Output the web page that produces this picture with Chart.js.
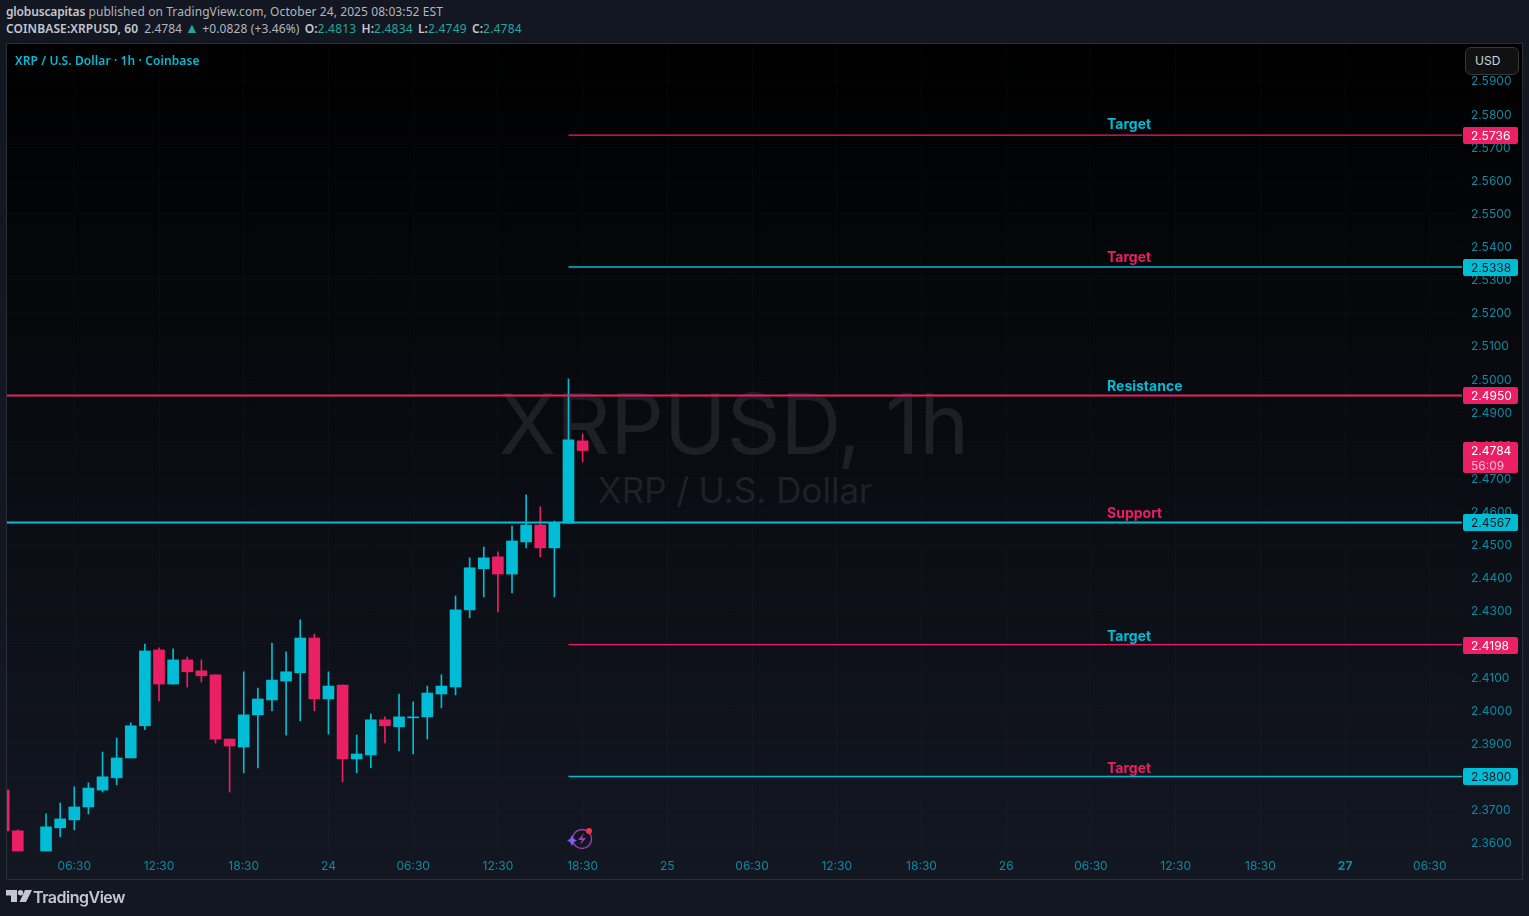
<!DOCTYPE html>
<html lang="en">
<head>
  <meta charset="UTF-8" />
  <title>XRPUSD 1h</title>
  <script src="https://cdn.jsdelivr.net/npm/chart.js"></script>
  <style>
    html, body { margin: 0; height: 916px; overflow: hidden; background: #131722; }
    body { font-family: "Noto Sans", sans-serif; font-size: 12px; color: #b2b5be; position: relative; }
    #line1, #line2 { position: absolute; left: 6px; white-space: nowrap; line-height: 16px; }
    #line1 { top: 4px; letter-spacing: 0.09px; }
    #line2 { top: 21px; }
    #line1 b, #line2 b { color: #c4c7cf; font-weight: 600; letter-spacing: -0.15px; }
    #line2 b { letter-spacing: 0.1px; }
    #line2 i { font-style: normal; color: #26a69a; letter-spacing: 0.2px; }
    #line2 b.k { margin: 0 0 0 2px; }
    #line2 .up { font-size: 14px; line-height: 12px; }
    #line2 .gain { letter-spacing: 0.12px; }
    #pane {
      position: absolute; left: 6px; top: 43px; width: 1515px; height: 835px;
      border: 1px solid #2a2e39;
      background: linear-gradient(to bottom, #000 0%, #0a0d13 55%, #131722 100%);
    }
    canvas { position: absolute; left: 0; top: 0; }
    #legend { position: absolute; left: 15px; top: 52px; color: #00bcd4; font-weight: 600; letter-spacing: 0.1px; }
    #usd {
      position: absolute; left: 1465px; top: 47px; width: 52px; height: 26px;
      background: #111; border: 1px solid #383838; border-radius: 6px;
      color: #d1d4dc; font: 12px/26px Inter, sans-serif; padding-left: 0; text-indent: 9px;
    }
    #logo { position: absolute; left: 6px; top: 889px; }
    #logoText { position: absolute; left: 33px; top: 886px; color: #c5c7cf; font: 600 16px/22px Inter, sans-serif; letter-spacing: -0.5px; }
    #spark { position: absolute; left: 566px; top: 826px; }
  </style>
</head>
<body>
  <div id="line1"><b>globuscapitas</b> published on TradingView.com, October 24, 2025 08:03:52 EST</div>
  <div id="line2"><b>COINBASE:XRPUSD, 60</b>&nbsp; 2.4784 <i class="up">▲</i> <span class="gain">+0.0828 (+3.46%)</span> <b class="k">O:</b><i>2.4813</i> <b class="k">H:</b><i>2.4834</i> <b class="k">L:</b><i>2.4749</i> <b class="k">C:</b><i>2.4784</i></div>
  <div id="pane"></div>
  <canvas id="chart" width="1529" height="916"></canvas>
  <div id="legend">XRP / U.S. Dollar · 1h · Coinbase</div>
  <div id="usd">USD</div>
  <svg id="spark" width="30" height="26" viewBox="0 0 30 26">
    <circle cx="16" cy="13" r="9.5" fill="none" stroke="#9c3fb0" stroke-width="1.4" />
    <path d="M18 7 L12 14 H16 L14 19 L20 12 H16 Z" fill="#9c3fb0" />
    <path d="M6 9 L8 13 L11 14.500 L8 16 L6 20 L4 16 L1 14.500 L4 13 Z" fill="#7c5cf5" />
    <circle cx="23" cy="5" r="3" fill="#f23645" />
  </svg>
  <svg id="logo" width="26" height="14" viewBox="0 0 26 14">
    <path d="M0 1 H11 V13 H5 V6.500 H0 Z" fill="#c5c7cf" />
    <circle cx="14.500" cy="3.800" r="2.700" fill="#c5c7cf" />
    <path d="M19 1 H26 L20 13 H13.500 Z" fill="#c5c7cf" />
  </svg>
  <div id="logoText">TradingView</div>

  <script>
    // hourly candles, first one sits mostly off the left edge, null = gap in the feed
    const opens = [2.3759, 2.3636, null, 2.3575, 2.3645, 2.3669, 2.3708, 2.3759, 2.3796, 2.3856, 2.3953, 2.4182, 2.4079, 2.4152, 2.4119, 2.4107, 2.3913, 2.3889, 2.3986, 2.4031, 2.4088, 2.4113, 2.4218, 2.4034, 2.4076, 2.3853, 2.3865, 2.3971, 2.3950, 2.3977, 2.3980, 2.4049, 2.4070, 2.4303, 2.4427, 2.4463, 2.4411, 2.4508, 2.4559, 2.4490, 2.4565, 2.4813];
    const highs = [2.3759, 2.3639, null, 2.3687, 2.3720, 2.3769, 2.3781, 2.3874, 2.3916, 2.3962, 2.4200, 2.4188, 2.4185, 2.4161, 2.4152, 2.4107, 2.3913, 2.4116, 2.4067, 2.4203, 2.4176, 2.4273, 2.4230, 2.4116, 2.4076, 2.3925, 2.3989, 2.3980, 2.4049, 2.4025, 2.4073, 2.4107, 2.4345, 2.4460, 2.4493, 2.4478, 2.4556, 2.4650, 2.4614, 2.4571, 2.5000, 2.4834];
    const lows = [2.3636, 2.3575, null, 2.3575, 2.3618, 2.3639, 2.3687, 2.3753, 2.3775, 2.3856, 2.3941, 2.4028, 2.4079, 2.4070, 2.4085, 2.3901, 2.3753, 2.3811, 2.3826, 2.3998, 2.3925, 2.3968, 2.3998, 2.3928, 2.3784, 2.3811, 2.3826, 2.3901, 2.3877, 2.3868, 2.3913, 2.4007, 2.4046, 2.4279, 2.4342, 2.4297, 2.4354, 2.4490, 2.4463, 2.4342, 2.4565, 2.4749];
    const closes = [2.3636, 2.3575, null, 2.3648, 2.3672, 2.3708, 2.3765, 2.3799, 2.3856, 2.3953, 2.4179, 2.4079, 2.4152, 2.4116, 2.4104, 2.3913, 2.3892, 2.3986, 2.4034, 2.4091, 2.4116, 2.4218, 2.4034, 2.4073, 2.3853, 2.3868, 2.3971, 2.3953, 2.3980, 2.3980, 2.4052, 2.4073, 2.4303, 2.4430, 2.4460, 2.4411, 2.4511, 2.4559, 2.4490, 2.4565, 2.4816, 2.4784];

    const timeLabels = ['06:30', '12:30', '18:30', '24', '06:30', '12:30', '18:30', '25', '06:30', '12:30', '18:30', '26', '06:30', '12:30', '18:30', '27', '06:30'];

    const levelPrices = [2.5736, 2.5338, 2.4950, 2.4567, 2.4198, 2.3800];
    const levelNames = ['Target', 'Target', 'Resistance', 'Support', 'Target', 'Target'];
    const levelFromBar = [35, 35, -5, -5, 35, 35];

    const lastPrice = 2.4784;
    const countdown = '56:09';

    // styling
    const CYAN = '#00bcd4';
    const RED = '#eb1f64';
    const FIRST_BAR = -5;        // index of opens[0]; bar 0 is the first 06:30
    const X_MIN = -4.766, X_MAX = 98.28;
    const Y_MIN = 2.3563, Y_MAX = 2.6011;
    const levelLineColors = [RED, CYAN, RED, CYAN, RED, CYAN];
    const levelNameColors = [CYAN, RED, CYAN, RED, CYAN, RED];
    const levelWidths = [1.4, 1.4, 2, 2, 1.4, 1.4];
    const levelNameGaps = [10, 9, 8, 8, 8, 7];

    const barX = i => i + FIRST_BAR;
    const candleColor = i => closes[i] >= opens[i] ? CYAN : RED;

    const wicks = highs.map((h, i) => ({ x: barX(i), y: h === null ? null : [lows[i], h] }));
    const bodies = opens.map((o, i) => ({ x: barX(i), y: o === null ? null : [o, closes[i]] }));
    const colors = opens.map((o, i) => candleColor(i));

    const levelSets = levelPrices.map((p, i) => ({
      type: 'line',
      data: [{ x: levelFromBar[i] === -5 ? X_MIN : levelFromBar[i], y: p }, { x: X_MAX, y: p }],
      borderColor: levelLineColors[i],
      borderWidth: levelWidths[i],
      pointRadius: 0,
      order: 0
    }));

    const watermark = {
      id: 'watermark',
      beforeDatasetsDraw(chart) {
        const c = chart.ctx;
        c.save();
        c.textAlign = 'center';
        c.textBaseline = 'middle';
        c.fillStyle = 'rgba(255,255,255,0.085)';
        c.font = '84px Inter, sans-serif';
        c.fillText('XRPUSD, 1h', 734, 429);
        c.font = '35px Inter, sans-serif';
        c.fillText('XRP / U.S. Dollar', 735, 492);
        c.restore();
      }
    };

    const tags = {
      id: 'tags',
      afterDraw(chart) {
        const c = chart.ctx, y = chart.scales.y, x = chart.scales.x;
        c.save();
        c.textBaseline = 'middle';
        levelPrices.forEach((p, i) => {
          const py = Math.round(y.getPixelForValue(p));
          c.textAlign = 'left';
          c.font = '700 14px Inter, sans-serif';
          c.fillStyle = levelNameColors[i];
          c.fillText(levelNames[i], x.getPixelForValue(73.14), py - levelNameGaps[i]);
          c.fillStyle = levelLineColors[i];
          c.beginPath();
          c.roundRect(1463, py - 8, 55, 17, 2);
          c.fill();
          c.font = '12px Inter, sans-serif';
          c.fillStyle = levelLineColors[i] === RED ? '#fff' : '#131722';
          c.fillText(p.toFixed(4), 1471, py + 1.5);
        });
        const ly = Math.round(y.getPixelForValue(lastPrice));
        c.fillStyle = RED;
        c.beginPath();
        c.roundRect(1463, ly - 8, 55, 31, 2);
        c.fill();
        c.font = '12px Inter, sans-serif';
        c.fillStyle = '#fff';
        c.fillText(lastPrice.toFixed(4), 1471, ly + 1.5);
        c.fillStyle = '#f9bdd0';
        c.fillText(countdown, 1471, ly + 16);
        c.restore();
      }
    };

    new Chart(document.getElementById('chart'), {
      type: 'bar',
      data: {
        datasets: [
          ...levelSets,
          { data: bodies, backgroundColor: colors, barThickness: 11, grouped: false, borderWidth: 0, order: 1 },
          { data: wicks, backgroundColor: colors, barThickness: 1, grouped: false, borderWidth: 0, order: 2 }
        ]
      },
      options: {
        responsive: false,
        animation: false,
        events: [],
        layout: { padding: { left: 7, top: 44, right: 0, bottom: 0 } },
        plugins: { legend: { display: false }, title: { display: false }, tooltip: { enabled: false } },
        scales: {
          x: {
            type: 'linear',
            offset: false,
            min: X_MIN,
            max: X_MAX,
            afterFit(s) { s.height = 61; },
            grid: { color: 'rgba(255,255,255,0.018)', drawTicks: false, offset: false },
            border: { display: false },
            ticks: {
              stepSize: 6,
              includeBounds: false,
              autoSkip: false,
              maxRotation: 0,
              padding: 4,
              color: '#0a8ba3',
              font: c => ({ family: 'Inter, sans-serif', size: 12, weight: c.tick && c.tick.value === 90 ? '700' : '400' }),
              callback: v => timeLabels[v / 6]
            }
          },
          y: {
            position: 'right',
            min: Y_MIN,
            max: Y_MAX,
            afterFit(s) { s.width = 67; },
            grid: { color: 'rgba(255,255,255,0.018)', drawTicks: false },
            border: { display: false },
            ticks: {
              stepSize: 0.01,
              includeBounds: false,
              autoSkip: false,
              padding: 9,
              labelOffset: 1,
              color: '#0a8ba3',
              font: { family: 'Inter, sans-serif', size: 12 },
              callback: v => v > 2.595 ? null : v.toFixed(4)
            }
          }
        }
      },
      plugins: [watermark, tags]
    });
  </script>
</body>
</html>
